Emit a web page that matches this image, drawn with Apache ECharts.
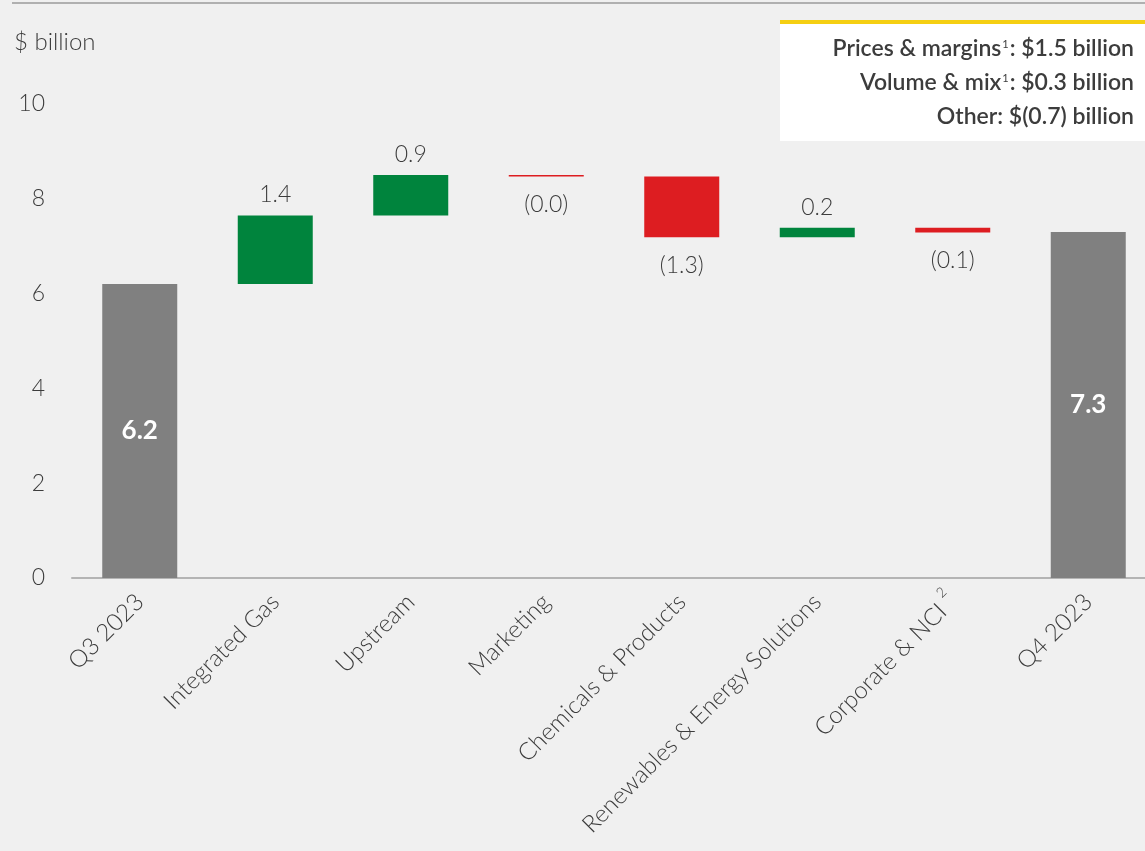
<!DOCTYPE html>
<html><head><meta charset="utf-8">
<script src="https://cdn.jsdelivr.net/npm/echarts@6/dist/echarts.min.js"></script>
<style>html,body{margin:0;padding:0;background:#f0f0f0}#c{width:1145px;height:851px}</style>
</head><body><div id="c"></div>
<script>
const categories = ['Q3 2023','Integrated Gas','Upstream','Marketing','Chemicals & Products','Renewables & Energy Solutions','Corporate & NCI{sup|2}','Q4 2023'];
const startTotal = 6.2;
const endTotal = 7.3;
const deltas = [1.45, 0.85, -0.03, -1.28, 0.2, -0.1];
const deltaLabels = ['1.4','0.9','(0.0)','(1.3)','0.2','(0.1)'];
const totalLabels = ['6.2','7.3'];
const yTicks = [0,2,4,6,8,10];
const noteLines = [
  ['Prices & margins','1',': $1.5 billion'],
  ['Volume & mix','1',': $0.3 billion'],
  ['Other: $(0.7) billion','','']
];

const n = categories.length;
const base = [], pos = [], neg = [], tot = [];
let run = startTotal;
for (let i = 0; i < n; i++) { base.push('-'); pos.push('-'); neg.push('-'); tot.push('-'); }
tot[0] = startTotal; tot[n-1] = endTotal;
deltas.forEach((d, k) => {
  const i = k + 1;
  if (d >= 0) { base[i] = run; pos[i] = d; }
  else { base[i] = run + d; neg[i] = -d; }
  run += d;
});

const FONT = 'Lato, "Open Sans", sans-serif';
const TXT = '#3c3c3c';
const chart = echarts.init(document.getElementById('c'), null, {renderer: 'canvas'});

const deltaLabel = (above) => ({
  show: true,
  position: above ? 'top' : 'bottom',
  distance: above ? 9 : 17,
  color: TXT, fontFamily: FONT, fontSize: 23, fontWeight: 300,
  formatter: p => deltaLabels[p.dataIndex - 1]
});

const graphics = [
  {type: 'line', shape: {x1: 12, y1: 3, x2: 1145, y2: 3}, style: {stroke: '#b0b0b0', lineWidth: 2}},
  {type: 'rect', shape: {x: 780, y: 23, width: 365, height: 118}, style: {fill: '#ffffff'}},
  {type: 'rect', shape: {x: 780, y: 20, width: 365, height: 4}, style: {fill: '#f5cf12'}},
  {type: 'text', left: 14, top: 30, style: {text: '$ billion', fill: TXT, font: '300 24px ' + FONT}}
];
noteLines.forEach((ln, i) => {
  const txt = ln[1] ? '{a|' + ln[0] + '}{s|' + ln[1] + '}{a|' + ln[2] + '}' : '{a|' + ln[0] + '}';
  graphics.push({
    type: 'text', x: 1134, y: 49 + i * 34,
    style: {
      text: txt, align: 'right', verticalAlign: 'middle',
      rich: {
        a: {fill: '#3c3c3c', font: '600 23px ' + FONT},
        s: {fill: '#3c3c3c', font: '400 11px ' + FONT, padding: [0, 1, 10, 1]}
      }
    }
  });
});

chart.setOption({
  backgroundColor: '#f0f0f0',
  animation: false,
  grid: {left: 72, width: 1084, top: 104, height: 474, outerBoundsMode: 'none', containLabel: false},
  xAxis: {
    type: 'category', data: categories,
    axisLine: {lineStyle: {color: '#b4b4b4', width: 2}},
    axisTick: {show: false},
    axisLabel: {
      interval: 0, rotate: 45, margin: 20,
      color: TXT, fontFamily: FONT, fontSize: 24, fontWeight: 300,
      rich: {sup: {fontSize: 14, fontFamily: FONT, fontWeight: 300, color: TXT, padding: [0, 0, 24, 6]}}
    }
  },
  yAxis: {
    type: 'value', min: 0, max: 10, interval: 2,
    splitLine: {show: false}, axisLine: {show: false}, axisTick: {show: false},
    axisLabel: {color: TXT, fontFamily: FONT, fontSize: 23, fontWeight: 300, margin: 27,
      formatter: v => yTicks.includes(v) ? String(v) : ''}
  },
  series: [
    {type: 'bar', stack: 'w', data: base, barWidth: 75, itemStyle: {color: 'transparent'}, silent: true},
    {type: 'bar', stack: 'w', data: pos, itemStyle: {color: '#00843d'}, label: deltaLabel(true)},
    {type: 'bar', stack: 'w', data: neg, itemStyle: {color: '#dd1d21'}, label: deltaLabel(false)},
    {type: 'bar', stack: 'w', data: tot, itemStyle: {color: '#808080'},
      label: {show: true, position: 'inside', color: '#ffffff', fontFamily: FONT, fontSize: 26, fontWeight: 'bold',
        formatter: p => p.dataIndex === 0 ? totalLabels[0] : totalLabels[1]}}
  ],
  graphic: graphics
});
</script></body></html>
